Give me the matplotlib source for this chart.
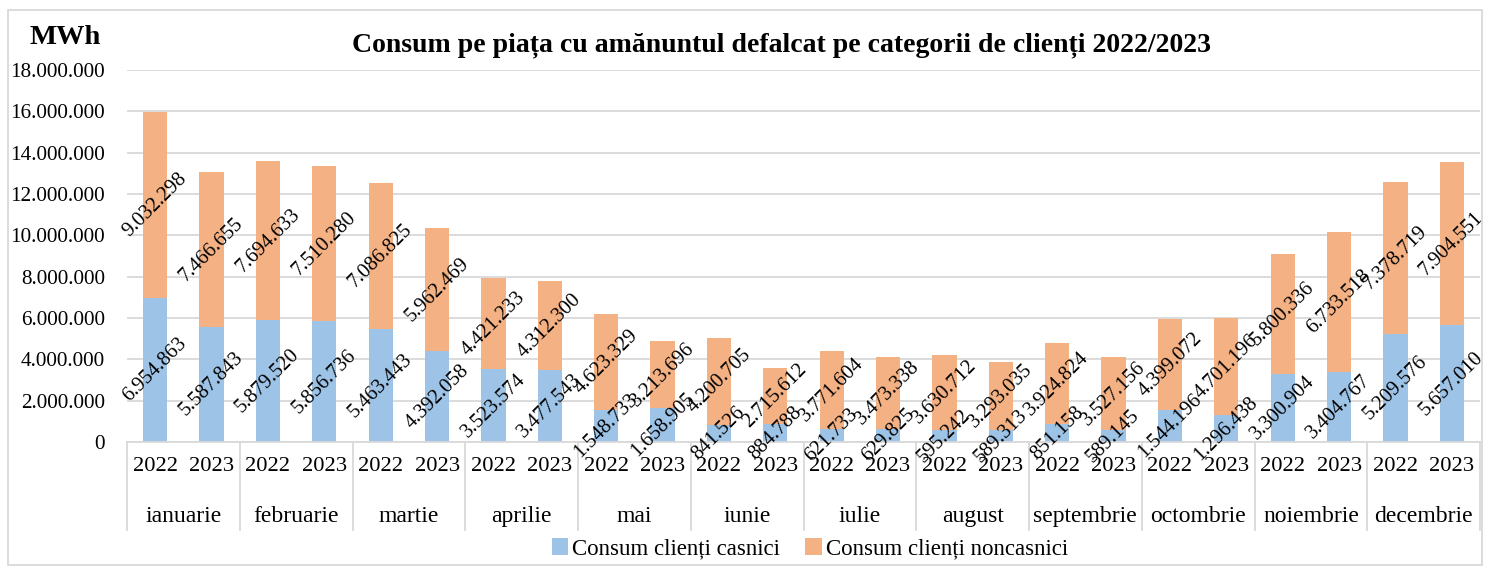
import numpy as np
import matplotlib.pyplot as plt
from matplotlib.ticker import FuncFormatter
from matplotlib.patches import Rectangle
import matplotlib.transforms as mtransforms

luni = ['ianuarie', 'februarie', 'martie', 'aprilie', 'mai', 'iunie', 'iulie',
        'august', 'septembrie', 'octombrie', 'noiembrie', 'decembrie']
ani = ['2022', '2023']

# consum clienti casnici, pe luna: [2022, 2023]
casnici_2022 = [6954863, 5879520, 5463443, 3523574, 1548733, 841526,
                621733, 595242, 851158, 1544196, 3300904, 5209576]
casnici_2023 = [5587843, 5856736, 4392058, 3477543, 1658905, 884788,
                629825, 589313, 589145, 1296438, 3404767, 5657010]
# consum clienti noncasnici
noncasnici_2022 = [9032298, 7694633, 7086825, 4421233, 4623329, 4200705,
                   3771604, 3630712, 3924824, 4399072, 5800336, 7378719]
noncasnici_2023 = [7466655, 7510280, 5962469, 4312300, 3213696, 2715612,
                   3473338, 3293035, 3527156, 4701196, 6733518, 7904551]

# intercalare 2022/2023
casnici = np.ravel(np.column_stack([casnici_2022, casnici_2023]))
noncasnici = np.ravel(np.column_stack([noncasnici_2022, noncasnici_2023]))
x = np.arange(len(casnici))

plt.rcParams['font.family'] = ['Liberation Serif', 'DejaVu Serif']

blue = '#9DC3E6'
orange = '#F4B183'
grid = '#D9D9D9'

fig = plt.figure(figsize=(14.88, 5.68), dpi=100)
ax = fig.add_axes([127/1488, (568-442)/568, (1480-127)/1488, 372/568])

b1 = ax.bar(x, casnici, width=0.43, color=blue, label='Consum clienți casnici', zorder=2)
b2 = ax.bar(x, noncasnici, width=0.43, bottom=casnici, color=orange,
            label='Consum clienți noncasnici', zorder=2)

def fmt(v):
    return f'{int(v):,}'.replace(',', '.')

for i in range(len(x)):
    ax.text(x[i], casnici[i] / 2, fmt(casnici[i]), rotation=45, ha='center',
            va='center', fontsize=14.8, zorder=3, clip_on=False)
    ax.text(x[i], casnici[i] + noncasnici[i] / 2, fmt(noncasnici[i]), rotation=45,
            ha='center', va='center', fontsize=14.8, zorder=3, clip_on=False)

ax.set_xlim(-0.5, len(x) - 0.5)
ax.set_ylim(0, 18000000)
ax.set_yticks(np.arange(0, 18000001, 2000000))
ax.yaxis.set_major_formatter(FuncFormatter(lambda v, p: fmt(v)))
ax.tick_params(axis='y', length=0, labelsize=15.2, pad=16)
ax.set_xticks([])
ax.grid(axis='y', color=grid, linewidth=1.3, zorder=0)
for s in ['top', 'right', 'left']:
    ax.spines[s].set_visible(False)
ax.spines['bottom'].set_color(grid)
ax.spines['bottom'].set_linewidth(1.3)

trans = mtransforms.blended_transform_factory(ax.transData, ax.transAxes)
for i in range(len(x)):
    ax.text(x[i], -0.067, ani[i % 2], transform=trans, ha='center', va='center', fontsize=16.2)
for j, luna in enumerate(luni):
    ax.text(2 * j + 0.5, -0.199, luna, transform=trans, ha='center', va='center', fontsize=17)
for k in range(len(luni) + 1):
    ax.plot([2 * k - 0.5, 2 * k - 0.5], [0, -0.237], transform=trans, color=grid,
            linewidth=1.3, clip_on=False)

fig.text(782/1488, 1 - 45/568, 'Consum pe piața cu amănuntul defalcat pe categorii de clienți 2022/2023',
         ha='center', va='center', fontsize=20, fontweight='bold')
fig.text(65/1488, 1 - 37/568, 'MWh', ha='center', va='center', fontsize=20.5, fontweight='bold')

fig.legend(handles=[b1, b2], loc='center', bbox_to_anchor=(810/1488, 1 - 549/568), ncol=2,
           frameon=False, fontsize=16.5, handlelength=0.7, handleheight=0.7,
           handletextpad=0.2, columnspacing=1.1)

fig.add_artist(Rectangle((8/1488, 3/568), 1474/1488, 555/568, transform=fig.transFigure,
                         fill=False, edgecolor=grid, linewidth=1.3))

fig.savefig('out.png', dpi=100)
